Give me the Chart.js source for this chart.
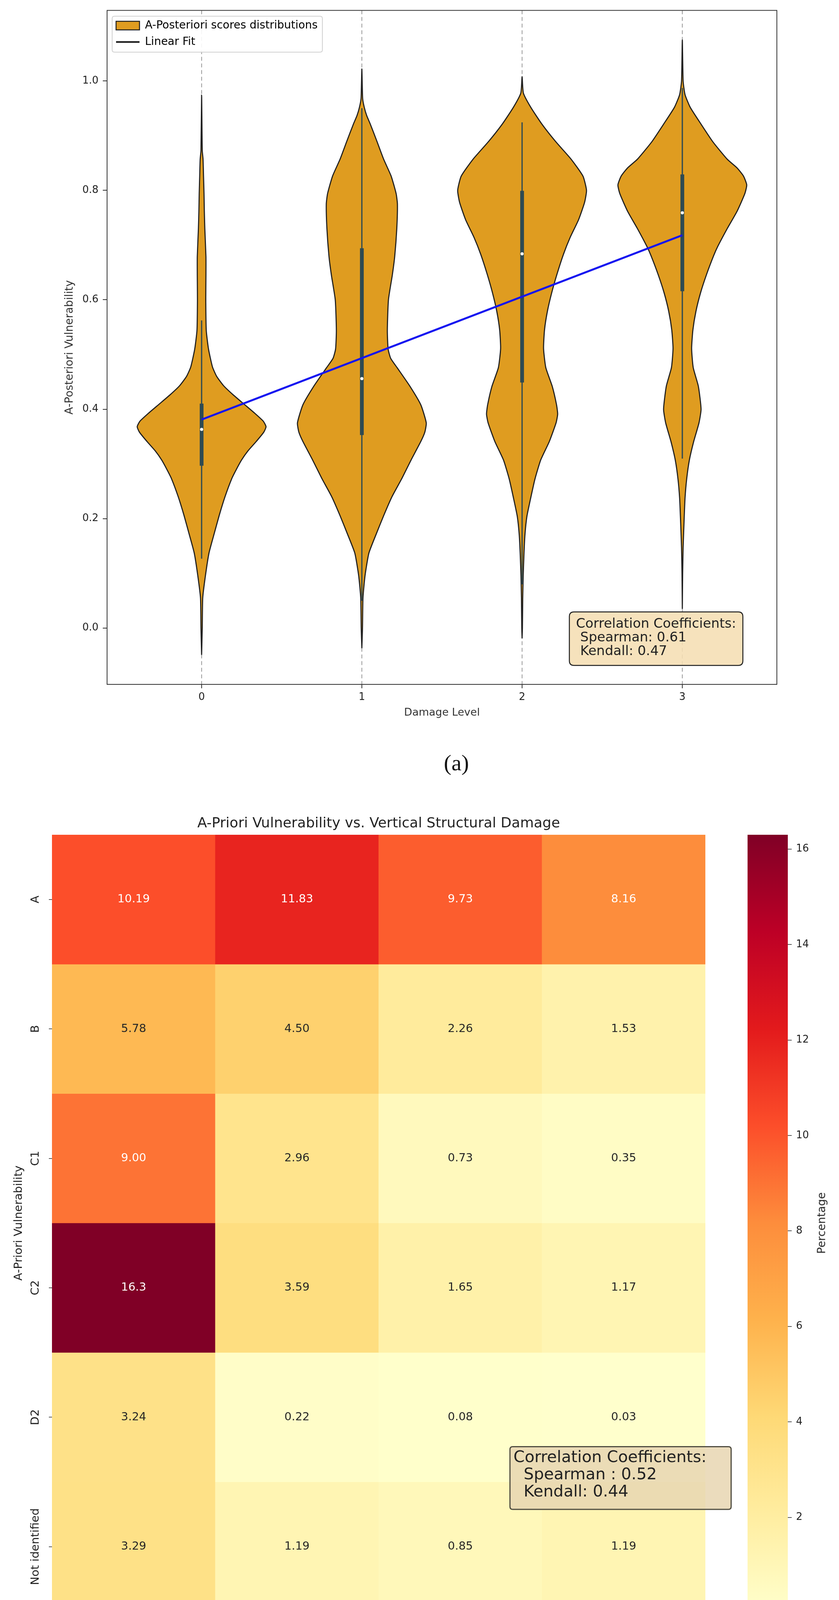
<!DOCTYPE html>
<html><head><meta charset="utf-8">
<script src="https://cdn.jsdelivr.net/npm/chart.js@4.4.1/dist/chart.umd.min.js"></script>
<style>
html,body{margin:0;padding:0;background:#fff;}
body{width:2147px;height:4451px;position:relative;overflow:hidden;font-family:'DejaVu Sans',sans-serif;}
canvas{position:absolute;}
#cA{left:0;top:0;}
#cB{left:0;top:2060px;}
#cC{left:1880px;top:2060px;}
.cap{position:absolute;font-family:'Liberation Serif',serif;font-size:58px;color:#111;transform:translate(-50%,-50%);white-space:nowrap;}
#pct{position:absolute;left:2102px;top:3131px;font-size:28px;color:#222;transform:translate(-50%,-50%) rotate(-90deg);white-space:nowrap;font-family:'DejaVu Sans',sans-serif;}
</style></head>
<body>
<canvas id="cA" width="2147" height="1845"></canvas>
<div class="cap" style="left:1168px;top:1952px">(a)</div>
<canvas id="cB" width="1880" height="2151"></canvas>
<canvas id="cC" width="267" height="2151"></canvas>
<div id="pct">Percentage</div>
<div class="cap" style="left:1168px;top:4375px">(b)</div>
<script>
// ================= Panel (a) data =================
const damageLevels = [0, 1, 2, 3];
// violin outlines: score levels and density half-widths (x units)
const v0Levels = [-0.049,0,0.055,0.096,0.137,0.172,0.206,0.24,0.273,0.29,0.307,0.324,0.341,0.358,0.368,0.378,0.392,0.409,0.426,0.443,0.46,0.477,0.51,0.544,0.6,0.645,0.679,0.73,0.762,0.794,0.826,0.857,0.873,0.974];
const v0HalfWidth = [0,0.004,0.007,0.024,0.046,0.078,0.11,0.146,0.188,0.217,0.249,0.29,0.341,0.388,0.402,0.385,0.334,0.266,0.198,0.137,0.094,0.068,0.043,0.029,0.026,0.027,0.027,0.02,0.017,0.015,0.012,0.009,0.004,0];
const v1Levels = [-0.037,0,0.055,0.096,0.137,0.172,0.206,0.24,0.273,0.307,0.341,0.358,0.375,0.408,0.442,0.476,0.493,0.51,0.544,0.6,0.645,0.679,0.73,0.775,0.794,0.826,0.857,0.889,0.921,0.937,0.952,0.968,1.022];
const v1HalfWidth = [0,0.004,0.007,0.02,0.044,0.09,0.137,0.188,0.249,0.307,0.368,0.393,0.402,0.368,0.3,0.22,0.18,0.164,0.159,0.166,0.19,0.205,0.218,0.222,0.214,0.183,0.136,0.095,0.053,0.03,0.015,0.005,0];
const v2Levels = [-0.019,0,0.055,0.096,0.137,0.171,0.204,0.238,0.272,0.307,0.341,0.375,0.391,0.408,0.442,0.476,0.511,0.545,0.579,0.613,0.647,0.683,0.714,0.746,0.778,0.8,0.826,0.857,0.889,0.921,0.952,0.978,1.008];
const v2HalfWidth = [0,0.002,0.004,0.007,0.012,0.018,0.03,0.054,0.08,0.116,0.17,0.212,0.222,0.215,0.188,0.148,0.134,0.14,0.158,0.185,0.218,0.258,0.3,0.352,0.39,0.402,0.38,0.306,0.21,0.124,0.054,0.008,0];
const v3Levels = [0.035,0.1,0.147,0.204,0.238,0.272,0.307,0.341,0.375,0.4,0.442,0.476,0.511,0.545,0.579,0.613,0.647,0.681,0.698,0.73,0.762,0.794,0.81,0.826,0.841,0.857,0.889,0.921,0.952,0.975,1.0,1.075];
const v3HalfWidth = [0,0.002,0.005,0.012,0.017,0.027,0.044,0.071,0.104,0.117,0.1,0.068,0.058,0.066,0.085,0.114,0.152,0.196,0.222,0.28,0.342,0.39,0.402,0.382,0.342,0.28,0.19,0.117,0.049,0.017,0.005,0];
// inner box statistics
const boxQ1 = [0.297, 0.353, 0.449, 0.616];
const boxQ3 = [0.410, 0.694, 0.799, 0.829];
const boxMedian = [0.363, 0.456, 0.684, 0.759];
const whiskerLow = [0.127, 0.05, 0.08, 0.31];
const whiskerHigh = [0.562, 0.95, 0.924, 0.987];
// linear fit end points
const fitX = [0, 3];
const fitY = [0.381, 0.718];
const yTicksA = [0, 0.2, 0.4, 0.6, 0.8, 1.0];
const corrTextA = ['Correlation Coefficients:', ' Spearman: 0.61', ' Kendall: 0.47'];

// ================= Panel (b) data =================
const vulnClasses = ['A', 'B', 'C1', 'C2', 'D2', 'Not identified'];
const damageLabels = ['0', '1', '2', '3'];
const rowA  = ['10.19', '11.83', '9.73', '8.16'];
const rowB  = ['5.78', '4.50', '2.26', '1.53'];
const rowC1 = ['9.00', '2.96', '0.73', '0.35'];
const rowC2 = ['16.3', '3.59', '1.65', '1.17'];
const rowD2 = ['3.24', '0.22', '0.08', '0.03'];
const rowNI = ['3.29', '1.19', '0.85', '1.19'];
const colorbarTicks = [2, 4, 6, 8, 10, 12, 14, 16];
const corrTextB = ['Correlation Coefficients:', '  Spearman : 0.52', '  Kendall: 0.44'];

// ================= helpers =================
Chart.defaults.font.family = "'DejaVu Sans', sans-serif";
Chart.defaults.color = '#222';
const FONT = "'DejaVu Sans', sans-serif";
const VIOLIN = '#df9c20', EDGE = '#1f1f1f', INNER = '#2e4a52';

function outline(center, levels, hw) {
  const right = levels.map((y, i) => ({x: center + hw[i], y}));
  const left = levels.map((y, i) => ({x: center - hw[i], y})).reverse();
  return right.concat(left.slice(1));
}
function rr(ctx, x, y, w, h, r) {
  ctx.beginPath();
  ctx.moveTo(x + r, y); ctx.lineTo(x + w - r, y); ctx.quadraticCurveTo(x + w, y, x + w, y + r);
  ctx.lineTo(x + w, y + h - r); ctx.quadraticCurveTo(x + w, y + h, x + w - r, y + h);
  ctx.lineTo(x + r, y + h); ctx.quadraticCurveTo(x, y + h, x, y + h - r);
  ctx.lineTo(x, y + r); ctx.quadraticCurveTo(x, y, x + r, y); ctx.closePath();
}
function drawCorrBox(ctx, x, y, w, h, radius, fill, stroke, lw, lines, fontSize, tx, ty0, dy) {
  ctx.save();
  rr(ctx, x, y, w, h, radius);
  ctx.fillStyle = fill; ctx.fill();
  ctx.strokeStyle = stroke; ctx.lineWidth = lw; ctx.stroke();
  ctx.fillStyle = '#222';
  ctx.font = fontSize + 'px ' + FONT;
  ctx.textBaseline = 'middle'; ctx.textAlign = 'left';
  lines.forEach((t, i) => ctx.fillText(t, tx, ty0 + i * dy));
  ctx.restore();
}

// ================= Chart (a) =================
const violinSets = [[v0Levels, v0HalfWidth], [v1Levels, v1HalfWidth], [v2Levels, v2HalfWidth], [v3Levels, v3HalfWidth]];
const datasetsA = violinSets.map(([lv, hw], i) => ({
  type: 'scatter', label: 'A-Posteriori scores distributions',
  data: outline(damageLevels[i], lv, hw),
  showLine: true, fill: 'shape', tension: 0.18,
  backgroundColor: VIOLIN, borderColor: EDGE, borderWidth: 2.8,
  pointRadius: 0, order: 5
}));
datasetsA.push({
  type: 'bar', label: 'whisker',
  data: damageLevels.map((x, i) => ({x, y: [whiskerLow[i], whiskerHigh[i]]})),
  backgroundColor: INNER, grouped: false, barThickness: 2.5, maxBarThickness: 2.5, order: 4
});
datasetsA.push({
  type: 'bar', label: 'box',
  data: damageLevels.map((x, i) => ({x, y: [boxQ1[i], boxQ3[i]]})),
  backgroundColor: INNER, grouped: false, barThickness: 9, maxBarThickness: 9, order: 3
});
datasetsA.push({
  type: 'scatter', label: 'median',
  data: damageLevels.map((x, i) => ({x, y: boxMedian[i]})),
  pointRadius: 4, pointBackgroundColor: '#ffffff', pointBorderWidth: 0, order: 2
});
datasetsA.push({
  type: 'scatter', label: 'Linear Fit',
  data: fitX.map((x, i) => ({x, y: fitY[i]})),
  showLine: true, borderColor: '#1515f0', borderWidth: 5, pointRadius: 0, fill: false, order: 1
});

function drawLegendFrame(chart) {
  const lg = chart.legend; const hb = lg && lg.legendHitBoxes;
  if (!hb || !hb.length) return;
  const ctx = chart.ctx;
  const x0 = hb[0].left - 10, y0 = hb[0].top - 10;
  const x1 = Math.max(...hb.map(b => b.left + b.width)) + 12;
  const last = hb[hb.length - 1];
  const y1 = last.top + last.height + 12;
  ctx.save();
  rr(ctx, x0, y0, x1 - x0, y1 - y0, 6);
  ctx.fillStyle = 'rgba(255,255,255,0.9)'; ctx.fill();
  ctx.strokeStyle = '#d0d0d0'; ctx.lineWidth = 2; ctx.stroke();
  ctx.restore();
}
const legendLayerPlugin = {
  id: 'legendLayer',
  beforeLayout(chart) {
    const lg = chart.legend;
    if (lg && !lg._customLayer) {
      lg._customLayer = true;
      lg._layers = () => [{z: 1, draw: (area) => { drawLegendFrame(chart); lg.draw(area); }}];
    }
  },
  afterLayout(chart) {
    const lg = chart.legend;
    if (lg) { lg.left = chart.chartArea.left + 9; lg.top = chart.chartArea.top + 11; }
  }
};
const frameAPlugin = {
  id: 'frameA',
  afterDatasetsDraw(chart) {
    const {ctx, chartArea: a} = chart;
    ctx.save(); ctx.strokeStyle = '#333'; ctx.lineWidth = 2;
    ctx.strokeRect(a.left, a.top, a.right - a.left, a.bottom - a.top);
    ctx.restore();
  },
  afterDraw(chart) {
    const a = chart.chartArea;
    drawCorrBox(chart.ctx, a.right - 531, a.top + 1540, 444, 137, 12,
      'rgba(245,222,179,0.88)', '#1f1f1f', 2.5, corrTextA, 34, a.right - 514, a.top + 1572, 35);
  }
};

new Chart(document.getElementById('cA'), {
  type: 'scatter',
  data: {datasets: datasetsA},
  options: {
    responsive: false, animation: false, devicePixelRatio: 1,
    layout: {padding: {top: 20, right: 159, left: 0, bottom: 0}},
    plugins: {
      tooltip: {enabled: false},
      legend: {
        display: true, position: 'chartArea', align: 'start',
        labels: {
          usePointStyle: true, pointStyleWidth: 60, boxHeight: 22, padding: 14,
          font: {size: 28, family: FONT}, color: '#222',
          generateLabels: () => [
            {text: 'A-Posteriori scores distributions', fillStyle: VIOLIN, strokeStyle: EDGE, lineWidth: 2.5, pointStyle: 'rect', hidden: false, datasetIndex: 0},
            {text: 'Linear Fit', fillStyle: '#111', strokeStyle: '#111', lineWidth: 4, pointStyle: 'line', hidden: false, datasetIndex: 7}
          ]
        }
      }
    },
    scales: {
      x: {
        type: 'linear', min: -0.59, max: 3.59, offset: false,
        afterBuildTicks: s => { s.ticks = damageLevels.map(v => ({value: v})); },
        afterFit: s => { s.height = 93; },
        ticks: {callback: v => String(v), font: {size: 26}, padding: 8, color: '#222', autoSkip: false, maxRotation: 0},
        grid: {offset: false, color: '#9a9a9a', lineWidth: 2, tickLength: 10, tickColor: '#333', tickWidth: 2},
        border: {display: true, color: '#333', width: 2, dash: [10, 7]},
        title: {display: true, text: 'Damage Level', font: {size: 27}, color: '#333', padding: {top: 4, bottom: 4}}
      },
      y: {
        type: 'linear', min: -0.103, max: 1.129, beginAtZero: false,
        afterBuildTicks: s => { s.ticks = yTicksA.map(v => ({value: v})); },
        afterFit: s => { s.width = 274; },
        ticks: {callback: v => Number(v).toFixed(1), font: {size: 26}, padding: 11, color: '#222'},
        grid: {drawOnChartArea: false, tickLength: 11, color: '#333', lineWidth: 2},
        border: {display: true, color: '#333', width: 2},
        title: {display: true, text: 'A-Posteriori Vulnerability', font: {size: 28}, color: '#333', padding: {top: 162, bottom: 0}}
      }
    }
  },
  plugins: [legendLayerPlugin, frameAPlugin]
});

// ================= Chart (b) heatmap =================
const heatRows = [rowA, rowB, rowC1, rowC2, rowD2, rowNI];
const heatValues = heatRows.map(r => r.map(Number));
const allVals = heatValues.flat();
const vMin = Math.min(...allVals), vMax = Math.max(...allVals);
const ylOrRd = ['#ffffcc','#ffeda0','#fed976','#feb24c','#fd8d3c','#fc4e2a','#e31a1c','#bd0026','#800026'];
function hexRgb(h) { return [1, 3, 5].map(k => parseInt(h.slice(k, k + 2), 16)); }
function cmapRgb(v) {
  let t = (v - vMin) / (vMax - vMin); t = Math.max(0, Math.min(1, t));
  const n = ylOrRd.length - 1, p = t * n, i = Math.min(n - 1, Math.floor(p)), f = p - i;
  const a = hexRgb(ylOrRd[i]), b = hexRgb(ylOrRd[i + 1]);
  return a.map((c, k) => Math.round(c + (b[k] - c) * f));
}
function rgbStr(c) { return 'rgb(' + c.join(',') + ')'; }
function luminance(c) {
  const l = c.map(v => { v /= 255; return v <= 0.03928 ? v / 12.92 : Math.pow((v + 0.055) / 1.055, 2.4); });
  return 0.2126 * l[0] + 0.7152 * l[1] + 0.0722 * l[2];
}

const heatDatasets = vulnClasses.map((name, r) => ({
  label: name,
  data: damageLabels.map(() => [r, r + 1]),
  backgroundColor: heatValues[r].map(v => rgbStr(cmapRgb(v))),
  borderWidth: 0, barPercentage: 1, categoryPercentage: 1, grouped: false
}));

const heatLabelPlugin = {
  id: 'heatLabels',
  afterDatasetsDraw(chart) {
    const ctx = chart.ctx;
    ctx.save();
    ctx.font = '29px ' + FONT; ctx.textAlign = 'center'; ctx.textBaseline = 'middle';
    heatRows.forEach((row, r) => {
      const meta = chart.getDatasetMeta(r);
      row.forEach((txt, c) => {
        const el = meta.data[c];
        const col = cmapRgb(heatValues[r][c]);
        ctx.fillStyle = luminance(col) > 0.408 ? '#262626' : '#ffffff';
        ctx.fillText(txt, el.x, (el.y + el.base) / 2);
      });
    });
    ctx.restore();
  },
  afterDraw(chart) {
    const a = chart.chartArea;
    drawCorrBox(chart.ctx, a.right - 500, a.top + 1566.5, 566, 160.5, 7,
      'rgba(232,214,178,0.85)', '#4f4c40', 3, corrTextB, 41, a.right - 491, a.top + 1595, 44);
  }
};

new Chart(document.getElementById('cB'), {
  type: 'bar',
  data: {labels: damageLabels, datasets: heatDatasets},
  options: {
    responsive: false, animation: false, devicePixelRatio: 1,
    layout: {padding: {top: 0, right: 75, left: 0, bottom: 0}},
    plugins: {
      tooltip: {enabled: false}, legend: {display: false},
      title: {display: true, fullSize: false, text: 'A-Priori Vulnerability vs. Vertical Structural Damage',
        font: {size: 36, weight: 'normal'}, color: '#222', padding: {top: 27.4, bottom: 6.4}}
    },
    scales: {
      x: {
        type: 'category', offset: true,
        afterFit: s => { s.height = 86; },
        ticks: {font: {size: 27}, padding: 4.5, color: '#222', maxRotation: 0},
        grid: {display: true, drawOnChartArea: false, offset: false, tickLength: 8, color: '#222', lineWidth: 1.5},
        border: {display: false},
        title: {display: true, text: 'Damage Level', font: {size: 28}, color: '#222', padding: {top: 4, bottom: 4}}
      },
      y: {
        type: 'linear', min: 0, max: vulnClasses.length, reverse: true,
        afterBuildTicks: s => { s.ticks = vulnClasses.map((_, i) => ({value: i + 0.5})); },
        afterFit: s => { s.width = 133; },
        ticks: {callback: (v, i) => vulnClasses[i], minRotation: 90, maxRotation: 90, crossAlign: 'center',
          padding: -65, font: {size: 29}, color: '#222', autoSkip: false},
        grid: {drawOnChartArea: false, tickLength: 8, color: '#222', lineWidth: 1.5},
        border: {display: false},
        title: {display: true, text: 'A-Priori Vulnerability', font: {size: 29}, color: '#222', padding: {top: 31, bottom: 0}}
      }
    }
  },
  plugins: [heatLabelPlugin]
});

// ================= Colorbar =================
new Chart(document.getElementById('cC'), {
  type: 'bar',
  data: {
    labels: ['Percentage'],
    datasets: [{
      data: [[vMin, vMax]],
      backgroundColor: (c) => {
        const ch = c.chart, a = ch.chartArea;
        if (!a) return ylOrRd[4];
        const g = ch.ctx.createLinearGradient(0, a.bottom, 0, a.top);
        ylOrRd.forEach((col, i) => g.addColorStop(i / (ylOrRd.length - 1), col));
        return g;
      },
      borderWidth: 0, barPercentage: 1, categoryPercentage: 1
    }]
  },
  options: {
    responsive: false, animation: false, devicePixelRatio: 1,
    layout: {padding: {top: 77, bottom: 86, left: 33, right: 0}},
    plugins: {tooltip: {enabled: false}, legend: {display: false}},
    scales: {
      x: {display: false},
      y: {
        position: 'right', min: vMin, max: vMax,
        afterBuildTicks: s => { s.ticks = colorbarTicks.map(v => ({value: v})); },
        afterFit: s => { s.width = 131; },
        ticks: {font: {size: 26}, padding: 11, color: '#222', callback: v => String(v)},
        grid: {drawOnChartArea: false, tickLength: 10, color: '#222', lineWidth: 1.5},
        border: {display: false}
      }
    }
  }
});
</script>
</body></html>
